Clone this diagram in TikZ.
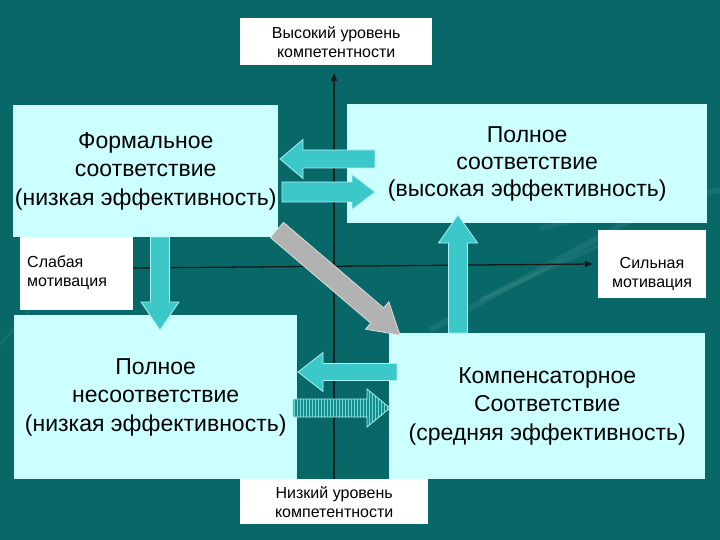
\documentclass[tikz,border=0pt]{standalone}
\usepackage{fontspec}
\setmainfont{Liberation Sans}
\usetikzlibrary{calc,patterns,arrows.meta}
\definecolor{bg}{RGB}{8,104,104}
\definecolor{boxc}{RGB}{204,255,255}
\definecolor{arrc}{RGB}{60,200,200}
\definecolor{arrl}{RGB}{170,240,240}
\definecolor{grayf}{RGB}{178,178,178}
\definecolor{grayl}{RGB}{220,220,220}
\definecolor{hatchbg}{RGB}{25,140,140}
\definecolor{hatchln}{RGB}{110,215,215}
\newcommand\blkarrow[6]{%
  \coordinate (#2#3b) at ($(#3)!#6!(#2)$);
  \path[#1] ($(#2)!#4!90:(#3)$) -- ($(#2#3b)!#4!90:(#3)$) -- ($(#2#3b)!#5!90:(#3)$)
    -- (#3) -- ($(#2#3b)!#5!-90:(#3)$) -- ($(#2#3b)!#4!-90:(#3)$) -- ($(#2)!#4!-90:(#3)$) -- cycle;
}
\begin{document}
\begin{tikzpicture}[x=1pt,y=-1pt,
  bigbox/.style={fill=boxc, draw=none, inner sep=0pt, anchor=north west, align=center,
    font=\fontsize{23}{28.5}\selectfont},
  lbl/.style={fill=white, draw=none, inner sep=0pt, anchor=north west, align=center,
    font=\fontsize{16}{19}\selectfont},
  axis/.style={draw=black!90, line width=1.3pt},
  cyanarr/.style={fill=arrc, draw=arrl, line width=0.8pt},
  grayarr/.style={fill=grayf, draw=grayl, line width=0.8pt},
  hatcharr/.style={preaction={fill=hatchbg}, pattern=vertical lines, pattern color=hatchln, draw=arrl, line width=0.8pt}]
\useasboundingbox (0,0) rectangle (720,540);
\fill[bg] (0,0) rectangle (720,540);
% faint background streaks
\draw[white, opacity=0.07, line width=6pt] (430,330) -- (640,215);
\draw[white, opacity=0.06, line width=4pt] (480,300) -- (600,245);
\draw[white, opacity=0.06, line width=5pt] (540,228) -- (720,190);
\draw[white, opacity=0.05, line width=3pt] (0,345) -- (30,310);
% axes
\coordinate (vtop) at (334,73);
\coordinate (vbot) at (334,479);
\coordinate (hL) at (133,268);
\coordinate (hR) at (593,264);
\draw[axis, -{Triangle[length=8pt,width=6pt]}] (vbot) -- (vtop);
\draw[axis, -{Triangle[length=8pt,width=6pt]}] (hL) -- (hR);
% label boxes
\node[lbl, minimum width=192, minimum height=47] (hi) at (240,18) {Высокий уровень\\компетентности};
\node[lbl, minimum width=188, minimum height=45] (lo) at (240,479) {Низкий уровень\\компетентности};
\node[lbl, minimum width=113, minimum height=75, text width=99, align=left] (wk) at (20,235) {Слабая\\мотивация};
\node[lbl, minimum width=108, minimum height=68] (st) at (598,230) {};
\node[font=\fontsize{16}{19}\selectfont, align=center, inner sep=0pt] (sttext) at (652,274) {Сильная\\мотивация};
% big boxes
\node[bigbox, minimum width=265, minimum height=132] (fm) at (13,105) {Формальное\\соответствие\\(низкая эффективность)};
\node[bigbox, minimum width=360, minimum height=119, font=\fontsize{23}{27}\selectfont] (tr) at (347,104) {Полное\\соответствие\\(высокая эффективность)};
\node[bigbox, minimum width=283, minimum height=164] (bl) at (14,315) {Полное\\несоответствие\\(низкая эффективность)};
\node[bigbox, minimum width=316, minimum height=146] (br) at (389,333) {Компенсаторное\\Соответствие\\(средняя эффективность)};
% block arrows
\coordinate (a1t) at (375,159); \coordinate (a1p) at (280,159);
\coordinate (a2t) at (282,192); \coordinate (a2p) at (375,192);
\coordinate (a3t) at (160,237); \coordinate (a3p) at (160,330);
\coordinate (a4t) at (458,333); \coordinate (a4p) at (458,215);
\coordinate (a5t) at (277,230); \coordinate (a5p) at (400,335);
\coordinate (a6t) at (397,372); \coordinate (a6p) at (298,372);
\coordinate (a7t) at (293,408); \coordinate (a7p) at (390,408);
\blkarrow{cyanarr}{a1t}{a1p}{9pt}{19.5pt}{23pt}
\blkarrow{cyanarr}{a2t}{a2p}{10pt}{17.5pt}{23pt}
\blkarrow{cyanarr}{a3t}{a3p}{9.5pt}{19pt}{28pt}
\blkarrow{cyanarr}{a4t}{a4p}{9.5pt}{19.5pt}{28pt}
\blkarrow{grayarr}{a5t}{a5p}{10pt}{18pt}{30pt}
\blkarrow{cyanarr}{a6t}{a6p}{8.5pt}{19.5pt}{25pt}
\blkarrow{hatcharr}{a7t}{a7p}{9pt}{19pt}{23pt}
\end{tikzpicture}
\end{document}
